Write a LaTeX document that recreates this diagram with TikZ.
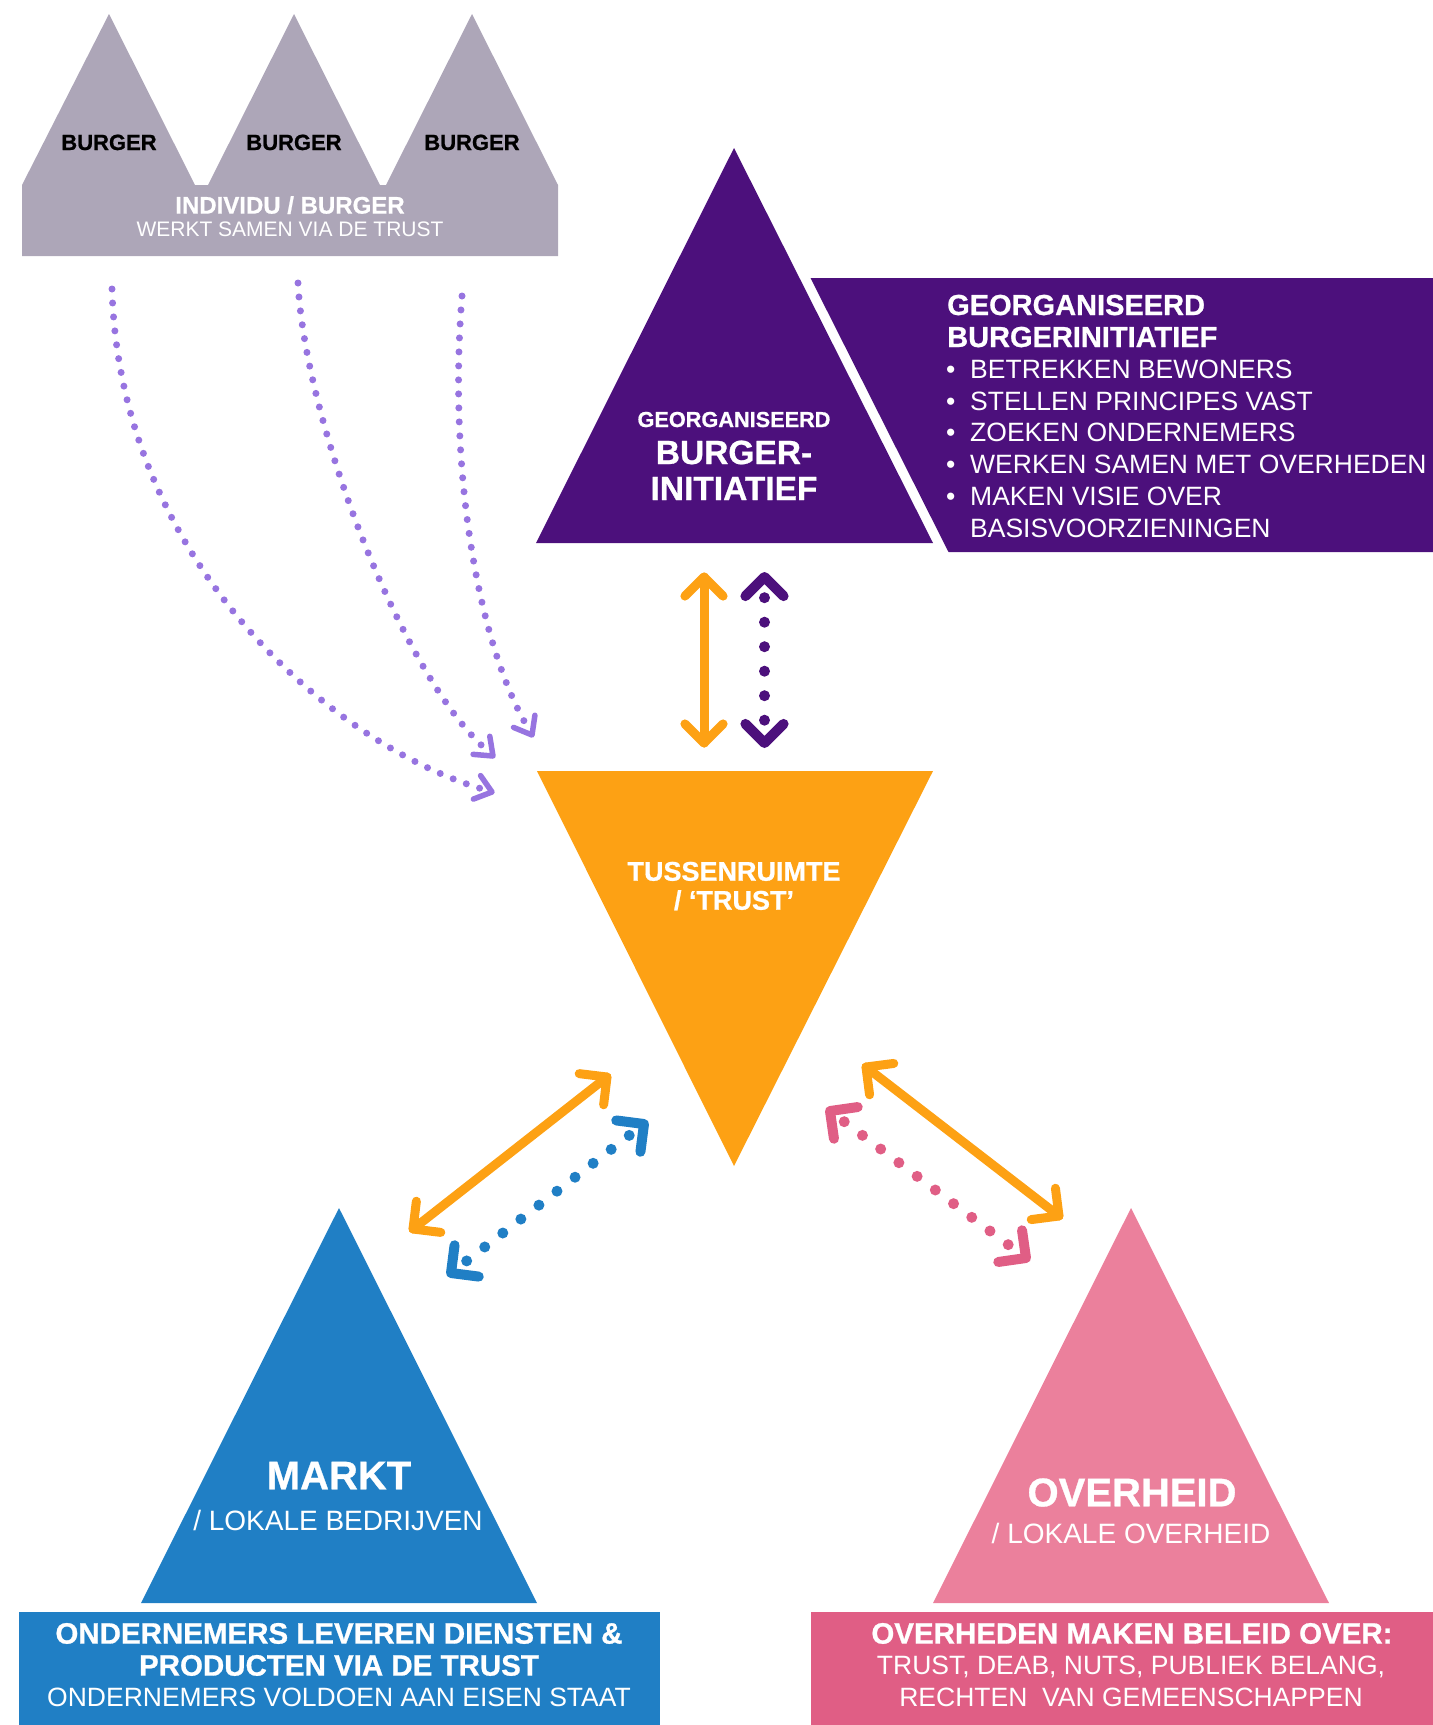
\documentclass[tikz,border=0pt]{standalone}
\usepackage{fontspec}
\setmainfont{Liberation Sans}[BoldFeatures={FakeBold=0.8}]
\usetikzlibrary{calc}
\definecolor{greyc}{RGB}{173,166,184}
\definecolor{purpleD}{RGB}{76,16,124}
\definecolor{orangec}{RGB}{253,161,20}
\definecolor{bluec}{RGB}{32,127,197}
\definecolor{pinkT}{RGB}{235,128,156}
\definecolor{pinkB}{RGB}{224,94,133}
\definecolor{lavc}{RGB}{151,116,224}
\newcommand\myfs[1]{\fontsize{#1}{#1}\selectfont}
\begin{document}
\begin{tikzpicture}[x=1pt,y=-1pt,
  tw/.style={inner sep=0pt,anchor=base,text=white},
  twl/.style={inner sep=0pt,anchor=base west,text=white},
  oline/.style={draw=orangec,line width=9pt,line cap=round,line join=round},
  pchev/.style={draw=purpleD,line width=10pt,line cap=round,line join=round},
  pdots/.style={draw=purpleD,line width=11pt,line cap=round,dash pattern=on 0pt off 24.5pt},
  bchev/.style={draw=bluec,line width=10pt,line cap=round,line join=round},
  bdots/.style={draw=bluec,line width=11pt,line cap=round,dash pattern=on 0pt off 22.82pt},
  kchev/.style={draw=pinkB,line width=10pt,line cap=round,line join=round},
  kdots/.style={draw=pinkB,line width=11pt,line cap=round,dash pattern=on 0pt off 22.77pt},
  lchev/.style={draw=lavc,line width=5.5pt,line cap=round,line join=round},
  ldots/.style={draw=lavc,line width=7pt,line cap=round,dash pattern=on 0pt off 14pt}]
\useasboundingbox (0,0) rectangle (1433,1725);

% ---- shapes
\fill[greyc] (22,256) -- (22,185) -- (109,14) -- (195,185) -- (208,185) -- (294,14) -- (380,185)
  -- (386,185) -- (472,14) -- (558,185) -- (558,256) -- cycle;
\fill[purpleD] (734,148) -- (933,543) -- (536,543) -- cycle;
\fill[purpleD] (810.5,278) -- (1433,278) -- (1433,552) -- (948.5,552) -- cycle;
\fill[orangec] (537,771) -- (933,771) -- (734,1166) -- cycle;
\fill[bluec] (339,1208) -- (537,1603) -- (141,1603) -- cycle;
\fill[pinkT] (1131,1208) -- (1329,1603) -- (933,1603) -- cycle;
\fill[bluec] (19,1612) rectangle (660,1725);
\fill[pinkB] (811,1612) rectangle (1433,1725);

% ---- vertical arrows
\coordinate (oT) at (704,577); \coordinate (oB) at (704,743);
\coordinate (pT) at (764.5,577); \coordinate (pB) at (764.5,743);
\draw[oline] (oT) -- (oB);
\draw[oline] ($(oT)!27pt!45:(oB)$) -- (oT) -- ($(oT)!27pt!-45:(oB)$);
\draw[oline] ($(oB)!27pt!45:(oT)$) -- (oB) -- ($(oB)!27pt!-45:(oT)$);
\draw[pdots] ($(pT)!20.7pt!(pB)$) -- ($(pB)!22.7pt!(pT)$);
\draw[pchev] ($(pT)!27pt!45:(pB)$) -- (pT) -- ($(pT)!27pt!-45:(pB)$);
\draw[pchev] ($(pB)!27pt!45:(pT)$) -- (pB) -- ($(pB)!27pt!-45:(pT)$);

% ---- left diagonal arrows
\coordinate (oL1) at (413,1229); \coordinate (oL2) at (607,1077);
\coordinate (bL1) at (451,1273); \coordinate (bL2) at (644,1124);
\draw[oline] (oL1) -- (oL2);
\draw[oline] ($(oL1)!28pt!45:(oL2)$) -- (oL1) -- ($(oL1)!28pt!-45:(oL2)$);
\draw[oline] ($(oL2)!28pt!45:(oL1)$) -- (oL2) -- ($(oL2)!28pt!-45:(oL1)$);
\draw[bdots] ($(bL1)!19.8pt!(bL2)$) -- ($(bL2)!18.4pt!(bL1)$);
\draw[bchev] ($(bL1)!28pt!45:(bL2)$) -- (bL1) -- ($(bL1)!28pt!-45:(bL2)$);
\draw[bchev] ($(bL2)!28pt!45:(bL1)$) -- (bL2) -- ($(bL2)!28pt!-45:(bL1)$);

% ---- right diagonal arrows
\coordinate (oR1) at (866,1067); \coordinate (oR2) at (1059,1216);
\coordinate (pk1) at (830,1111); \coordinate (pk2) at (1026,1258);
\draw[oline] (oR1) -- (oR2);
\draw[oline] ($(oR1)!28pt!45:(oR2)$) -- (oR1) -- ($(oR1)!28pt!-45:(oR2)$);
\draw[oline] ($(oR2)!28pt!45:(oR1)$) -- (oR2) -- ($(oR2)!28pt!-45:(oR1)$);
\draw[kdots] ($(pk1)!17.8pt!(pk2)$) -- ($(pk2)!22.1pt!(pk1)$);
\draw[kchev] ($(pk1)!28pt!45:(pk2)$) -- (pk1) -- ($(pk1)!28pt!-45:(pk2)$);
\draw[kchev] ($(pk2)!28pt!45:(pk1)$) -- (pk2) -- ($(pk2)!28pt!-45:(pk1)$);

% ---- curved lavender arrows
\coordinate (c1s) at (112,289); \coordinate (c1a) at (120,560); \coordinate (c1b) at (330,742); \coordinate (c1e) at (492,792);
\coordinate (c2s) at (298,283); \coordinate (c2a) at (305,420); \coordinate (c2b) at (400,670); \coordinate (c2e) at (493,756);
\coordinate (c3s) at (462,296); \coordinate (c3a) at (448,470); \coordinate (c3b) at (478,640); \coordinate (c3e) at (532,735);
\draw[ldots,shorten >=13pt] (c1s) .. controls (c1a) and (c1b) .. (c1e);
\draw[lchev] ($(c1e)!20pt!38:(c1b)$) -- (c1e) -- ($(c1e)!20pt!-38:(c1b)$);
\draw[ldots,shorten >=13pt] (c2s) .. controls (c2a) and (c2b) .. (c2e);
\draw[lchev] ($(c2e)!20pt!38:(c2b)$) -- (c2e) -- ($(c2e)!20pt!-38:(c2b)$);
\draw[ldots,shorten >=13pt] (c3s) .. controls (c3a) and (c3b) .. (c3e);
\draw[lchev] ($(c3e)!20pt!38:(c3b)$) -- (c3e) -- ($(c3e)!20pt!-38:(c3b)$);

% ---- texts: burgers
\node[tw,text=black,font=\myfs{22}\bfseries] (bu1) at (109,150) {BURGER};
\node[tw,text=black,font=\myfs{22}\bfseries] (bu2) at (294,150) {BURGER};
\node[tw,text=black,font=\myfs{22}\bfseries] (bu3) at (472,150) {BURGER};
\node[tw,font=\myfs{24}\bfseries] (ind) at (290,213.6) {INDIVIDU / BURGER};
\node[tw,font=\myfs{21}] (werkt) at (290,236.5) {WERKT SAMEN VIA DE TRUST};

% ---- purple triangle and box
\node[tw,font=\myfs{21.7}\bfseries] (gt1) at (734,427) {GEORGANISEERD};
\node[tw,font=\myfs{33.5}\bfseries] (gt2) at (734,464) {BURGER-};
\node[tw,font=\myfs{33.5}\bfseries] (gt3) at (734,500) {INITIATIEF};
\node[twl,font=\myfs{29}\bfseries] (gh1) at (947,315) {GEORGANISEERD};
\node[twl,font=\myfs{29}\bfseries] (gh2) at (947,347) {BURGERINITIATIEF};
\foreach \yy/\tt [count=\i] in {378/BETREKKEN BEWONERS, 410/STELLEN PRINCIPES VAST, 441.8/ZOEKEN ONDERNEMERS, 473.7/WERKEN SAMEN MET OVERHEDEN, 505.6/MAKEN VISIE OVER}{
  \node[twl,font=\myfs{26.5}] (bl\i) at (946,\yy) {•};
  \node[twl,font=\myfs{26.5}] (it\i) at (970,\yy) {\tt};
}
\node[twl,font=\myfs{26.5}] (it6) at (970,537.5) {BASISVOORZIENINGEN};

% ---- orange triangle
\node[tw,font=\myfs{27}\bfseries] (ts1) at (734,880.7) {TUSSENRUIMTE};
\node[tw,font=\myfs{27}\bfseries] (ts2) at (734,909.7) {/ ‘TRUST’};

% ---- markt
\node[tw,font=\myfs{40}\bfseries] (mk1) at (339,1489.3) {MARKT};
\node[tw,font=\myfs{28}] (mk2) at (338,1530) {/ LOKALE BEDRIJVEN};
\node[tw,font=\myfs{29.5}\bfseries] (mb1) at (339,1643.6) {ONDERNEMERS LEVEREN DIENSTEN \&};
\node[tw,font=\myfs{29.5}\bfseries] (mb2) at (339,1675.6) {PRODUCTEN VIA DE TRUST};
\node[tw,font=\myfs{26.5}] (mb3) at (339,1706.5) {ONDERNEMERS VOLDOEN AAN EISEN STAAT};

% ---- overheid
\node[tw,font=\myfs{40}\bfseries] (ov1) at (1132,1506.3) {OVERHEID};
\node[tw,font=\myfs{28}] (ov2) at (1131,1543) {/ LOKALE OVERHEID};
\node[tw,font=\myfs{29.5}\bfseries] (ob1) at (1132,1643.6) {OVERHEDEN MAKEN BELEID OVER:};
\node[tw,font=\myfs{26.5}] (ob2) at (1131,1674.5) {TRUST, DEAB, NUTS, PUBLIEK BELANG,};
\node[tw,font=\myfs{26.5}] (ob3) at (1131,1706.5) {RECHTEN~ VAN GEMEENSCHAPPEN};
\end{tikzpicture}
\end{document}
